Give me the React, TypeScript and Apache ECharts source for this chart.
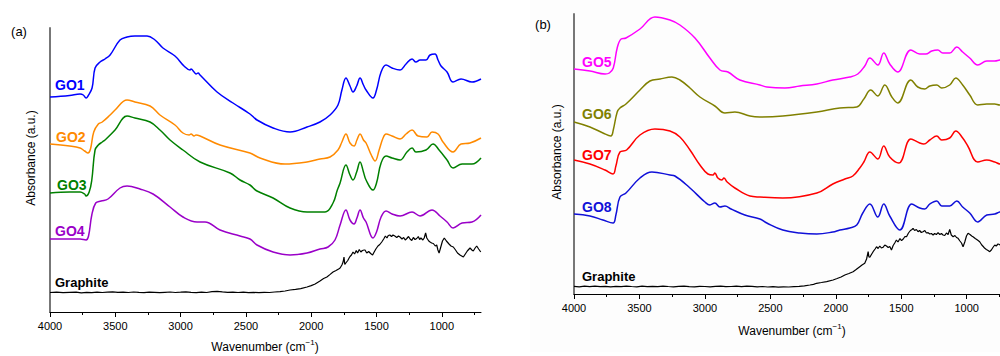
import React, { useEffect, useRef } from "react";
import * as echarts from "echarts";

const FONT = '"Liberation Sans", Arial, Helvetica, sans-serif';

// x axis (wavenumber, cm^-1)
const majorTicks = [4000, 3500, 3000, 2500, 2000, 1500, 1000];
const minorTicks = [3750, 3250, 2750, 2250, 1750, 1250, 750];

// ---- Panel (a): spectra stacked with vertical offsets, [wavenumber, absorbance (a.u.)]
const go1: number[][] = [
  [4000, 215], [3850, 216.5], [3770, 218], [3745, 217], [3724, 214], [3709, 216], [3678, 224], [3655, 244],
  [3617, 250], [3579, 253], [3540, 257], [3464, 272], [3410, 275], [3350, 276], [3257, 276], [3196, 272],
  [3135, 264], [3043, 256], [2974, 246], [2928, 242], [2920, 243], [2897, 240], [2882, 238], [2866, 239],
  [2851, 237], [2721, 220], [2599, 209], [2469, 198], [2415, 192], [2292, 184], [2162, 180], [2032, 185],
  [1933, 190], [1856, 197], [1795, 207], [1765, 222], [1734, 234], [1703, 226], [1680, 220], [1652, 226],
  [1626, 234], [1600, 227], [1580, 222], [1527, 214], [1500, 222], [1465, 240], [1427, 247], [1381, 244],
  [1320, 242], [1274, 248], [1228, 253], [1198, 250], [1167, 252], [1121, 252], [1090, 257], [1052, 258],
  [1029, 252], [1006, 246], [960, 240], [914, 230], [853, 233], [769, 230], [700, 233],
];

const go2: number[][] = [
  [4000, 168], [3850, 166], [3770, 164], [3735, 161], [3709, 159], [3690, 163], [3665, 180], [3630, 188],
  [3600, 190], [3540, 197], [3502, 202], [3410, 212], [3350, 210], [3234, 206], [3158, 197], [3043, 187],
  [2982, 179], [2935, 177], [2920, 178], [2897, 176], [2882, 177], [2851, 176], [2698, 167], [2469, 159],
  [2392, 154], [2201, 148], [2032, 150], [1933, 153], [1856, 155], [1795, 162], [1765, 170], [1734, 178],
  [1703, 169], [1672, 166], [1650, 172], [1626, 178], [1600, 172], [1580, 169], [1540, 157], [1511, 151],
  [1480, 162], [1450, 174], [1427, 178], [1381, 176], [1320, 173], [1274, 178], [1228, 182], [1182, 176],
  [1113, 175], [1075, 180], [1029, 178], [991, 170], [914, 160], [853, 168], [784, 169], [700, 174],
];

const go3: number[][] = [
  [4000, 119], [3850, 120], [3770, 120], [3735, 118], [3724, 116], [3700, 120], [3680, 132], [3655, 162],
  [3630, 167], [3600, 170], [3579, 172], [3502, 182], [3410, 196], [3350, 194], [3234, 190], [3158, 182],
  [3081, 172], [2982, 162], [2851, 150], [2622, 139], [2545, 132], [2469, 127], [2415, 121], [2292, 114],
  [2162, 104], [2032, 100], [1894, 100], [1833, 109], [1800, 122], [1779, 129], [1734, 147], [1703, 137],
  [1680, 132], [1652, 140], [1626, 150], [1600, 140], [1580, 132], [1527, 122], [1500, 129], [1465, 149],
  [1427, 156], [1381, 154], [1320, 152], [1267, 160], [1228, 164], [1198, 160], [1121, 162], [1067, 168],
  [1021, 162], [960, 152], [914, 144], [845, 148], [769, 148], [700, 154],
];

const go4: number[][] = [
  [4000, 73], [3850, 73], [3770, 73], [3724, 72], [3705, 76], [3680, 97], [3650, 109], [3609, 111],
  [3556, 113], [3464, 124], [3410, 126], [3311, 123], [3211, 118], [3081, 105], [2982, 95], [2874, 90],
  [2813, 90], [2698, 82], [2545, 76], [2469, 73], [2415, 67], [2292, 60], [2162, 57], [2032, 59],
  [1933, 63], [1871, 65], [1818, 72], [1779, 87], [1734, 102], [1703, 92], [1672, 88], [1650, 94],
  [1626, 102], [1600, 94], [1580, 90], [1527, 74], [1500, 80], [1465, 95], [1427, 101], [1381, 98],
  [1320, 96], [1228, 100], [1167, 96], [1075, 102], [1014, 96], [960, 90], [914, 84], [845, 89],
  [769, 90], [700, 97],
];

const graphiteA: number[][] = [
  [4000, 19.5], [3950, 19.8], [3900, 19.3], [3850, 19.6], [3800, 19.9], [3760, 19.2], [3720, 19.6],
  [3680, 19.4], [3640, 19.9], [3600, 19.5], [3560, 19.8], [3520, 20.1], [3480, 19.6], [3440, 19.9],
  [3400, 19.5], [3360, 20.0], [3320, 19.6], [3280, 19.4], [3240, 19.9], [3200, 19.6], [3160, 19.3],
  [3120, 19.7], [3080, 20.0], [3040, 19.5], [3000, 19.8], [2960, 20.2], [2920, 19.6], [2880, 19.4],
  [2840, 19.8], [2800, 19.5], [2760, 20.3], [2720, 20.6], [2680, 20.1], [2640, 19.7], [2600, 19.9],
  [2560, 19.5], [2520, 19.8], [2480, 19.4], [2440, 19.6], [2400, 19.3], [2360, 19.7], [2320, 19.5],
  [2280, 20.0], [2239, 20.3], [2200, 21.0], [2162, 22.0], [2120, 22.6], [2080, 23.3], [2032, 25.0],
  [2000, 26.4], [1970, 28.0], [1933, 31.0], [1905, 33.5], [1880, 35.0], [1855, 37.6], [1833, 40.0],
  [1810, 41.5], [1790, 43.0], [1779, 44.0], [1765, 47.0], [1756, 50.0], [1749, 55.0], [1743, 47.5],
  [1735, 49.0], [1720, 51.5], [1710, 54.0], [1703, 55.5], [1692, 57.0], [1680, 60.0], [1668, 58.0],
  [1655, 61.5], [1645, 59.0], [1632, 62.5], [1620, 60.0], [1608, 61.5], [1595, 62.0], [1588, 62.0],
  [1575, 59.0], [1560, 60.5], [1545, 58.5], [1530, 57.0], [1520, 59.5], [1505, 63.0], [1489, 66.0],
  [1475, 67.5], [1460, 70.0], [1445, 73.0], [1432, 76.0], [1420, 74.0], [1410, 76.5], [1398, 77.0],
  [1385, 75.5], [1374, 77.0], [1360, 76.0], [1345, 74.5], [1332, 76.0], [1320, 75.0], [1305, 73.0],
  [1292, 74.5], [1280, 72.0], [1268, 73.5], [1255, 75.5], [1243, 73.0], [1230, 71.5], [1218, 74.5],
  [1205, 72.5], [1192, 73.5], [1180, 75.5], [1170, 72.5], [1160, 74.0], [1145, 72.0], [1135, 74.0],
  [1124, 79.0], [1115, 74.0], [1100, 71.0], [1090, 70.0], [1078, 69.0], [1065, 68.5], [1050, 66.0],
  [1039, 67.0], [1030, 62.0], [1021, 59.0], [1010, 64.0], [995, 71.0], [981, 74.0], [965, 71.0],
  [945, 68.0], [930, 66.0], [912, 65.0], [895, 62.0], [880, 59.0], [861, 57.0], [848, 56.0], [835, 55.0],
  [820, 58.0], [805, 61.0], [784, 64.0], [770, 62.0], [759, 61.0], [745, 64.0], [733, 66.0], [718, 63.0],
  [702, 60.0],
];

// ---- Panel (b)
const go5: number[][] = [
  [4000, 225], [3878, 223], [3763, 220], [3730, 221], [3700, 226], [3670, 246], [3640, 255], [3603, 256],
  [3496, 265], [3382, 277], [3267, 274], [3191, 269], [3076, 256], [2962, 236], [2885, 224], [2824, 222],
  [2733, 214], [2580, 209], [2527, 207], [2389, 206], [2275, 208], [2145, 210], [2023, 214], [1893, 217],
  [1832, 220], [1779, 228], [1740, 236], [1679, 229], [1634, 241], [1588, 230], [1527, 222], [1427, 244],
  [1359, 240], [1313, 240], [1267, 243], [1221, 244], [1183, 241], [1130, 241], [1076, 247], [1031, 242],
  [977, 236], [916, 229], [847, 233], [786, 233], [748, 234], [700, 235],
];

const go6: number[][] = [
  [4000, 172], [3878, 167], [3779, 161], [3718, 158], [3700, 164], [3670, 182], [3649, 186], [3603, 190],
  [3496, 204], [3420, 213], [3343, 215], [3252, 217], [3191, 214], [3114, 206], [3038, 197], [2924, 188],
  [2847, 181], [2771, 182], [2656, 178], [2580, 177], [2405, 178], [2145, 182], [1969, 186], [1840, 187],
  [1786, 195], [1733, 204], [1679, 198], [1626, 209], [1572, 197], [1527, 191], [1427, 214], [1374, 207],
  [1321, 205], [1282, 208], [1229, 209], [1191, 206], [1130, 209], [1084, 216], [1031, 209], [977, 199],
  [916, 189], [847, 190], [786, 190], [748, 189], [700, 189],
];

const go7: number[][] = [
  [4000, 134], [3878, 130], [3763, 124], [3702, 120], [3680, 128], [3649, 142], [3598, 144], [3496, 159],
  [3382, 165], [3267, 163], [3191, 157], [3114, 144], [3038, 129], [2977, 120], [2939, 119], [2924, 121],
  [2901, 116], [2870, 114], [2855, 116], [2830, 112], [2771, 106], [2656, 98], [2580, 97], [2405, 96],
  [2145, 101], [2023, 110], [1931, 115], [1870, 118], [1817, 126], [1786, 132], [1740, 142], [1679, 135],
  [1634, 148], [1588, 137], [1519, 131], [1427, 155], [1359, 151], [1328, 150], [1282, 154], [1229, 158],
  [1191, 154], [1130, 156], [1084, 163], [1031, 156], [992, 148], [916, 132], [847, 134], [786, 132],
  [748, 130], [700, 129],
];

const go8: number[][] = [
  [4000, 80], [3878, 78], [3779, 74], [3702, 71], [3680, 79], [3649, 97], [3603, 101], [3496, 116],
  [3405, 122], [3267, 119], [3229, 118], [3114, 106], [3000, 92], [2962, 89], [2924, 91], [2885, 87],
  [2847, 88], [2800, 85], [2695, 79], [2580, 75], [2527, 71], [2405, 64], [2275, 61], [2145, 60],
  [2023, 62], [1969, 64], [1893, 66], [1840, 69], [1794, 81], [1740, 90], [1679, 77], [1634, 90],
  [1588, 78], [1511, 64], [1420, 90], [1359, 86], [1321, 85], [1282, 90], [1229, 93], [1191, 88],
  [1130, 88], [1076, 93], [1031, 87], [977, 81], [916, 72], [847, 79], [786, 80], [748, 82], [700, 83],
];

const graphiteB: number[][] = [
  [4000, 7.6], [3960, 7.2], [3920, 7.8], [3880, 7.4], [3840, 7.9], [3800, 7.3], [3760, 7.6], [3720, 7.1],
  [3680, 7.7], [3640, 7.4], [3600, 7.9], [3560, 7.5], [3520, 7.2], [3480, 7.8], [3440, 7.4], [3400, 7.7],
  [3360, 7.3], [3320, 7.9], [3280, 7.5], [3240, 7.2], [3200, 7.6], [3160, 7.9], [3120, 7.4], [3080, 7.2],
  [3040, 7.7], [3000, 7.5], [2960, 7.1], [2920, 7.6], [2880, 7.9], [2840, 7.3], [2800, 7.5], [2760, 7.8],
  [2720, 7.4], [2680, 7.9], [2640, 7.6], [2600, 7.2], [2560, 7.5], [2520, 7.0], [2480, 7.3], [2440, 6.9],
  [2400, 7.2], [2360, 7.0], [2320, 7.4], [2280, 7.6], [2240, 8.2], [2198, 9.0], [2170, 9.6], [2147, 10.7],
  [2110, 11.5], [2070, 12.4], [2021, 14.0], [1990, 15.5], [1960, 17.0], [1931, 19.0], [1900, 20.5],
  [1868, 22.3], [1845, 24.5], [1817, 27.3], [1800, 29.0], [1779, 30.7], [1765, 35.0], [1753, 42.3],
  [1747, 37.0], [1740, 36.7], [1728, 39.5], [1715, 42.3], [1700, 45.0], [1689, 47.3], [1677, 45.5],
  [1664, 48.0], [1652, 46.0], [1639, 46.7], [1626, 49.0], [1613, 48.0], [1600, 46.5], [1588, 47.5],
  [1575, 44.0], [1562, 48.5], [1550, 51.0], [1537, 54.0], [1525, 52.0], [1510, 55.5], [1498, 53.3],
  [1485, 55.0], [1472, 57.5], [1460, 57.3], [1445, 61.0], [1430, 63.5], [1418, 64.5], [1410, 65.7],
  [1398, 63.5], [1385, 64.5], [1372, 62.3], [1360, 63.5], [1347, 61.5], [1334, 62.3], [1320, 63.5],
  [1308, 61.0], [1295, 61.3], [1282, 60.0], [1270, 60.5], [1257, 59.0], [1245, 60.5], [1232, 59.5],
  [1219, 61.3], [1205, 59.5], [1193, 60.5], [1181, 59.0], [1168, 58.5], [1155, 61.0], [1142, 59.5],
  [1130, 64.7], [1118, 59.0], [1104, 57.3], [1090, 58.5], [1078, 56.5], [1066, 55.7], [1052, 53.0],
  [1040, 51.0], [1028, 47.3], [1015, 52.0], [1002, 58.0], [990, 60.7], [975, 59.5], [962, 58.0],
  [952, 57.3], [935, 55.5], [918, 54.0], [901, 52.3], [885, 49.0], [874, 47.5], [862, 45.7], [850, 44.5],
  [837, 43.5], [824, 42.3], [812, 44.0], [800, 46.5], [786, 49.0], [775, 48.0], [761, 50.0], [748, 49.5],
  [735, 47.0], [720, 48.0], [700, 46.5],
];

const panelA = [
  { name: "GO1", data: go1, color: "#0000ff" },
  { name: "GO2", data: go2, color: "#ff8a00" },
  { name: "GO3", data: go3, color: "#008000" },
  { name: "GO4", data: go4, color: "#9a00c8" },
  { name: "Graphite", data: graphiteA, color: "#000000" },
];
const panelB = [
  { name: "GO5", data: go5, color: "#ff00ff" },
  { name: "GO6", data: go6, color: "#808000" },
  { name: "GO7", data: go7, color: "#ff0000" },
  { name: "GO8", data: go8, color: "#1010d8" },
  { name: "Graphite", data: graphiteB, color: "#000000" },
];

function xAxes(gridIndex: number) {
  return [
    {
      gridIndex,
      type: "value",
      position: "bottom",
      inverse: true,
      min: 700,
      max: 4000,
      axisLine: { onZero: false, lineStyle: { color: "#000", width: 1 } },
      axisTick: { show: true, customValues: majorTicks, length: 5, lineStyle: { color: "#000", width: 1 } },
      axisLabel: {
        customValues: majorTicks,
        formatter: (v: number) => String(v),
        fontSize: 11,
        color: "#000",
        margin: 8,
        fontFamily: FONT,
      },
      splitLine: { show: false },
    },
    {
      gridIndex,
      type: "value",
      position: "bottom",
      inverse: true,
      min: 700,
      max: 4000,
      axisLine: { show: false, onZero: false },
      axisTick: { show: true, customValues: minorTicks, length: 3, lineStyle: { color: "#000", width: 1 } },
      axisLabel: { show: false },
      splitLine: { show: false },
    },
  ];
}

function yAxis(gridIndex: number, max: number) {
  return {
    gridIndex,
    type: "value",
    position: "left",
    min: 0,
    max,
    axisLine: { show: true, onZero: false, lineStyle: { color: "#777", width: 2 } },
    axisTick: { show: false },
    axisLabel: { show: false },
    splitLine: { show: false },
  };
}

function seriesFor(list: typeof panelA, axisIndex: number, yIndex: number) {
  return list.map((s) => ({
    name: s.name,
    type: "line",
    xAxisIndex: axisIndex,
    yAxisIndex: yIndex,
    data: s.data,
    symbol: "none",
    smooth: s.name === "Graphite" ? false : 0.4,
    lineStyle: { color: s.color, width: s.name === "Graphite" ? 1.2 : 1.5 },
    itemStyle: { color: s.color },
    silent: true,
  }));
}

function label(text: string, x: number, y: number, color: string, size: number) {
  return {
    type: "text",
    x,
    y,
    style: { text, fill: color, fontSize: size, fontWeight: "bold", fontFamily: FONT, align: "left", verticalAlign: "middle" },
  };
}

function xTitle(x: number, y: number) {
  return {
    type: "text",
    x,
    y,
    style: {
      text: "{n|Wavenumber (cm}{s|−1}{n|)}",
      fill: "#000",
      align: "center",
      verticalAlign: "middle",
      rich: {
        n: { fontSize: 12, fontFamily: FONT, fill: "#000", lineHeight: 18 },
        s: { fontSize: 8, fontFamily: FONT, fill: "#000", verticalAlign: "top" },
      },
    },
  };
}

function yTitle(x: number, y: number) {
  return {
    type: "text",
    x,
    y,
    rotation: Math.PI / 2,
    style: { text: "Absorbance (a.u.)", fill: "#000", fontSize: 12, fontFamily: FONT, align: "center", verticalAlign: "middle" },
  };
}

export default function App() {
  const ref = useRef<HTMLDivElement>(null);

  useEffect(() => {
    if (!ref.current) return;
    const chart = echarts.init(ref.current, undefined, { renderer: "svg" });
    chart.setOption({
      animation: false,
      backgroundColor: "#ffffff",
      grid: [
        { left: 50, top: 28, width: 431, height: 284 },
        { left: 574, top: 14, width: 432, height: 280 },
      ],
      xAxis: [...xAxes(0), ...xAxes(1)],
      yAxis: [yAxis(0, 284), yAxis(1, 280)],
      series: [...seriesFor(panelA, 0, 0), ...seriesFor(panelB, 2, 1)],
      graphic: [
        { type: "rect", z: -10, shape: { x: 530, y: 0, width: 480, height: 352 }, style: { fill: "#fdfdfd" }, silent: true },
        { type: "text", x: 19, y: 31, style: { text: "(a)", fill: "#000", fontSize: 13, fontFamily: FONT, align: "center", verticalAlign: "middle" } },
        { type: "text", x: 543, y: 24, style: { text: "(b)", fill: "#000", fontSize: 13, fontFamily: FONT, align: "center", verticalAlign: "middle" } },
        label("GO1", 55, 85, "#0000ff", 14),
        label("GO2", 56, 137, "#ff8a00", 14),
        label("GO3", 57, 185, "#008000", 14),
        label("GO4", 55, 231, "#9a00c8", 14),
        label("Graphite", 55, 282, "#000", 13),
        label("GO5", 582, 62, "#ff00ff", 14),
        label("GO6", 582, 114, "#808000", 14),
        label("GO7", 582, 155, "#ff0000", 14),
        label("GO8", 582, 207, "#1010d8", 14),
        label("Graphite", 582, 276, "#000", 13),
        xTitle(265, 347),
        xTitle(792, 331),
        yTitle(31, 158),
        yTitle(557, 152),
      ],
    });
    return () => chart.dispose();
  }, []);

  return (
    <div style={{ position: "absolute", left: 0, top: 0, width: 1000, height: 356, overflow: "hidden", background: "#fff" }}>
      <div ref={ref} style={{ width: 1010, height: 356 }} />
    </div>
  );
}
